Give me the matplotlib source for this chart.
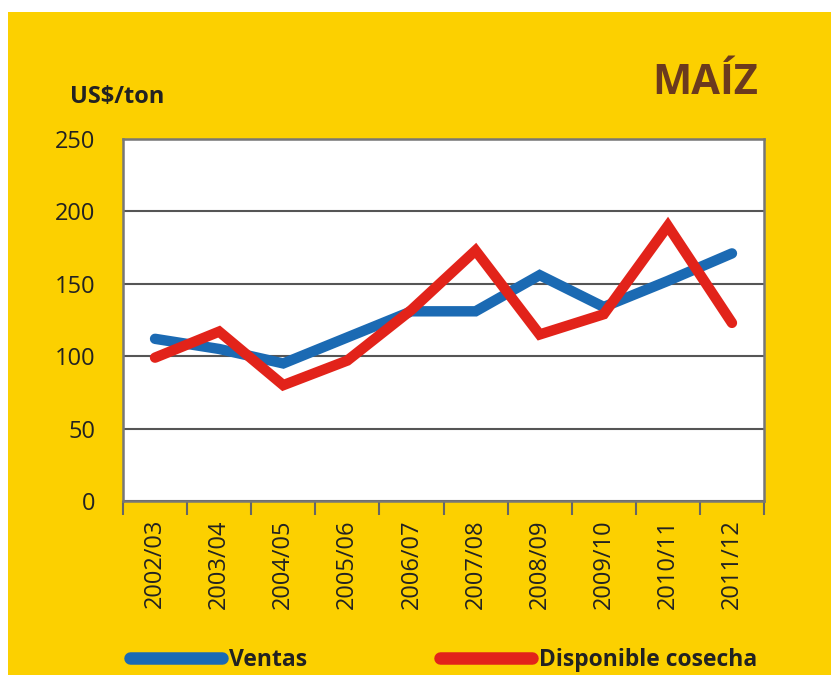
import numpy as np
import matplotlib.pyplot as plt
from matplotlib.patches import Rectangle

# Campaigns and prices (US$/ton)
campaigns = ['2002/03', '2003/04', '2004/05', '2005/06', '2006/07',
             '2007/08', '2008/09', '2009/10', '2010/11', '2011/12']
ventas = [112, 105, 95, 113, 131, 131, 156, 134, 152, 171]
disponible = [99, 117, 80, 97, 132, 173, 115, 129, 190, 123]

yellow = '#FCD000'
blue = '#1B6AB3'
red = '#E2231A'
brown = '#6B3A1E'
txt = '#222222'

plt.rcParams['font.family'] = ['Open Sans', 'DejaVu Sans']

fig = plt.figure(figsize=(8.31, 6.75), dpi=100)
fig.patch.set_facecolor('white')
# yellow panel (small white margin top/left)
fig.patches.append(Rectangle((8 / 831, 0), 1, 1 - 12 / 675, transform=fig.transFigure,
                             facecolor=yellow, edgecolor='none', zorder=-10))

ax = fig.add_axes([123 / 831, 1 - 501 / 675, 641 / 831, 362 / 675])
ax.set_facecolor('white')

x = np.arange(len(campaigns))
ax.plot(x, ventas, color=blue, lw=7.5, solid_capstyle='round', solid_joinstyle='miter',
        label='Ventas', zorder=3)
ax.plot(x, disponible, color=red, lw=7.5, solid_capstyle='round', solid_joinstyle='miter',
        label='Disponible cosecha', zorder=4)

ax.set_xlim(-0.5, len(campaigns) - 0.5)
ax.set_ylim(0, 250)
ax.set_yticks(np.arange(0, 251, 50))
ax.yaxis.grid(True, color='#555555', lw=1.5)
ax.set_axisbelow(True)

ax.set_xticks(x)
ax.set_xticklabels(campaigns, rotation=90, fontsize=17, color=txt)
ax.set_xticks(np.arange(-0.5, len(campaigns), 1), minor=True)
ax.tick_params(axis='x', which='major', length=0, pad=13)
ax.tick_params(axis='x', which='minor', length=10, width=1.5, color='#666666')
ax.tick_params(axis='y', length=0, pad=20, labelsize=17, labelcolor=txt)

for s in ax.spines.values():
    s.set_color('#777777')
    s.set_linewidth(1.8)

fig.text(70 / 831, 1 - 97 / 675, 'US$/ton', fontsize=17, fontweight='bold',
         color=txt, va='center', ha='left')
fig.text(758 / 831, 1 - 84 / 675, 'MAÍZ', fontsize=30, fontweight='bold',
         color=brown, va='center', ha='right')

leg = fig.legend(loc='center left', bbox_to_anchor=(119 / 831, 1 - 660 / 675), ncol=2,
                 frameon=False, borderpad=0, handlelength=4.0, handletextpad=0.3,
                 columnspacing=5.8, prop={'size': 16.5, 'weight': 'bold'})
for t in leg.get_texts():
    t.set_color(txt)
for h in leg.legend_handles:
    h.set_linewidth(9)

fig.savefig('out.png', dpi=100, facecolor=fig.get_facecolor())
